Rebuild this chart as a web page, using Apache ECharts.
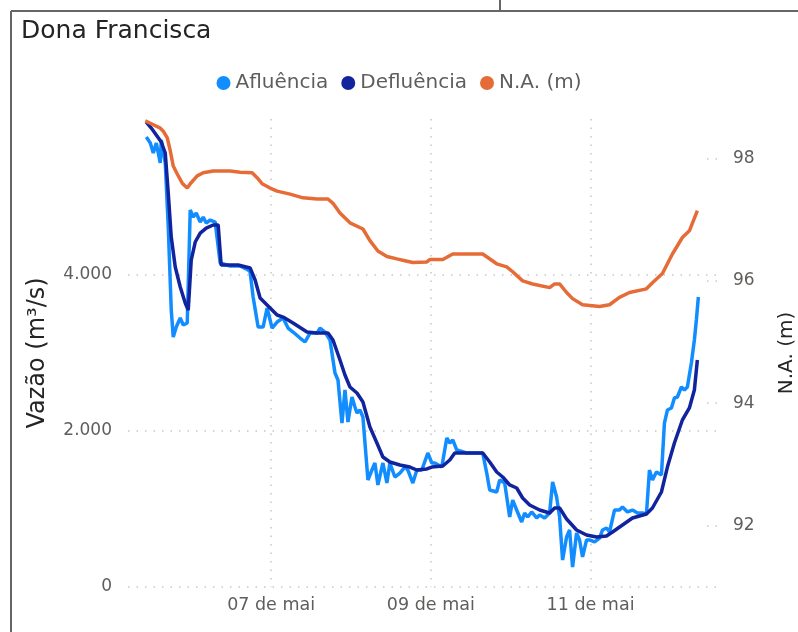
<!DOCTYPE html>
<html>
<head>
<meta charset="utf-8">
<title>Dona Francisca</title>
<script src="https://cdn.jsdelivr.net/npm/echarts@6/dist/echarts.min.js"></script>
<style>
html, body { margin: 0; padding: 0; background: #fff; }
#chart { width: 798px; height: 632px; }
</style>
</head>
<body>
<div id="chart"></div>
<script>
// eixo x: horas contadas a partir de 05/05 00:00
const firstDay = 5;

// Afluência (m³/s)
const afluencia = [
  [10.5,5769],[11.7,5692],[12.6,5564],[13.5,5692],[14.7,5436],[15.0,5731],[16.2,5436],[17.1,4615],
  [18.0,3551],[18.6,3205],[19.5,3333],[20.7,3449],[21.6,3359],[22.8,3384],[23.7,4833],[24.6,4743],
  [25.5,4795],[26.7,4679],[27.6,4743],[28.5,4666],[29.7,4705],[31.2,4679],[32.7,4154],[35.7,4115],
  [38.7,4115],[41.1,4064],[41.7,4038],[42.6,3718],[44.1,3333],[45.6,3333],[46.8,3577],[48.3,3320],
  [49.8,3397],[51.6,3449],[53.1,3320],[54.6,3269],[56.7,3192],[58.2,3141],[59.7,3256],[61.8,3256],
  [62.7,3320],[64.2,3269],[65.7,3167],[67.2,2743],[68.1,2654],[69.3,2102],[70.2,2526],[71.1,2115],
  [72.3,2436],[73.2,2308],[73.8,2231],[74.7,2269],[75.6,2179],[77.1,1372],[78.3,1500],[79.2,1590],
  [80.1,1308],[81.6,1590],[82.8,1333],[83.7,1590],[85.2,1410],[86.7,1461],[88.2,1538],[89.1,1500],
  [90.6,1333],[91.8,1500],[93.3,1500],[95.1,1718],[96.3,1590],[97.2,1590],[99.3,1538],[100.8,1910],
  [101.7,1846],[102.6,1885],[103.8,1756],[106.8,1718],[111.6,1718],[112.8,1461],[113.7,1244],[115.8,1218],
  [116.7,1372],[118.2,1333],[119.7,897],[120.6,1115],[121.8,987],[123.3,833],[124.2,949],[125.1,897],
  [126.3,962],[127.8,885],[128.7,923],[130.2,885],[131.7,949],[132.6,1346],[133.8,1154],[134.7,897],
  [135.6,346],[136.8,641],[137.7,731],[138.6,256],[139.8,692],[140.7,603],[141.6,385],[142.8,603],
  [143.7,603],[145.2,577],[146.7,628],[147.6,731],[148.8,756],[149.7,705],[151.2,987],[152.7,987],
  [153.6,1026],[155.1,962],[156.6,987],[158.1,949],[159.6,949],[160.8,936],[161.7,1500],[162.6,1372],
  [163.8,1474],[165.3,1436],[166.2,2102],[167.1,2269],[168.3,2295],[169.2,2423],[170.1,2436],[171.3,2564],
  [172.2,2526],[173.1,2564],[174.3,2872],[175.2,3167],[175.8,3423],[176.4,3718]
];

// Defluência (m³/s)
const defluencia = [
  [10.5,5961],[12.0,5884],[13.5,5795],[15.0,5705],[16.2,5564],[17.1,5051],[18.0,4487],[19.2,4102],
  [20.7,3846],[22.2,3641],[23.1,3551],[24.0,4192],[25.2,4423],[26.7,4538],[28.5,4602],[30.6,4641],
  [32.1,4641],[33.0,4128],[38.1,4128],[41.7,4090],[43.2,3936],[44.7,3705],[46.8,3615],[49.8,3487],
  [51.6,3461],[54.6,3384],[58.8,3269],[61.8,3256],[65.1,3256],[66.6,3167],[68.7,2910],[70.2,2718],
  [71.7,2564],[73.8,2487],[75.6,2372],[77.7,2051],[79.8,1846],[81.6,1667],[83.7,1603],[86.7,1564],
  [89.7,1538],[91.8,1500],[94.8,1513],[96.3,1538],[99.6,1551],[101.7,1628],[103.2,1718],[111.6,1718],
  [113.7,1603],[115.8,1474],[117.6,1410],[119.7,1308],[121.8,1269],[123.6,1141],[125.7,1051],[128.7,987],
  [131.7,949],[133.2,1013],[134.7,1013],[136.8,872],[139.8,731],[142.8,667],[145.8,641],[148.8,654],
  [150.6,705],[153.6,795],[156.6,885],[160.8,936],[162.6,1013],[165.3,1218],[167.1,1538],[169.2,1846],
  [171.6,2141],[173.7,2295],[175.2,2526],[176.1,2910]
];

// N.A. (m)
const nivel = [
  [10.2,98.62],[11.7,98.58],[14.7,98.50],[15.6,98.45],[16.8,98.34],[17.7,98.13],[18.6,97.88],[19.8,97.75],
  [21.3,97.60],[22.8,97.52],[23.7,97.59],[25.8,97.72],[27.6,97.77],[30.6,97.80],[35.7,97.80],[38.7,97.78],
  [42.3,97.77],[43.8,97.69],[45.3,97.59],[47.7,97.52],[49.8,97.47],[53.7,97.42],[57.6,97.36],[61.8,97.34],
  [65.1,97.34],[66.6,97.27],[68.7,97.11],[71.7,96.95],[75.6,96.85],[77.7,96.66],[80.1,96.49],[82.8,96.40],
  [85.8,96.36],[88.2,96.33],[90.6,96.30],[94.8,96.31],[95.7,96.35],[99.6,96.35],[102.6,96.44],[111.6,96.44],
  [115.8,96.28],[118.8,96.23],[120.6,96.15],[123.6,96.00],[126.6,95.95],[131.7,95.89],[133.2,95.95],[134.7,95.95],
  [136.8,95.81],[138.6,95.71],[141.6,95.61],[146.7,95.58],[149.7,95.61],[152.7,95.73],[155.7,95.81],[160.8,95.87],
  [162.6,95.97],[165.6,96.12],[168.6,96.44],[171.6,96.71],[173.7,96.82],[176.1,97.15]
];

// rótulos dos eixos
const dayTicks = [7, 9, 11];
const naTicks = [92, 94, 96, 98];

const xTicks = dayTicks.map(d => (d - firstDay) * 24);

const labelColor = '#605E5C';
const gridDots = { color: '#C8C6C4', width: 1.5, type: [1.5, 7] };
const font = 'DejaVu Sans';

const chart = echarts.init(document.getElementById('chart'));
chart.setOption({
  animation: false,
  textStyle: { fontFamily: font },
  title: {
    text: 'Dona Francisca',
    left: 16,
    top: 14,
    textStyle: { fontFamily: font, fontSize: 25, fontWeight: 'normal', color: '#252423' }
  },
  legend: {
    top: 68,
    left: 'center',
    icon: 'circle',
    itemWidth: 14,
    itemHeight: 14,
    itemGap: 13,
    textStyle: { fontFamily: font, fontSize: 20, color: labelColor },
    data: ['Afluência', 'Defluência', 'N.A. (m)']
  },
  grid: { left: 128, right: 81, top: 119, bottom: 45, outerBoundsMode: 'none' },
  xAxis: {
    type: 'value',
    min: 5,
    max: 182,
    axisLine: { show: false },
    axisTick: { show: false, customValues: xTicks },
    axisLabel: {
      customValues: xTicks,
      margin: 9,
      fontSize: 17.5,
      color: labelColor,
      formatter: v => String(firstDay + Math.round(v / 24)).padStart(2, '0') + ' de mai'
    },
    splitLine: { show: true, lineStyle: gridDots }
  },
  yAxis: [
    {
      type: 'value',
      min: 0,
      max: 6000,
      interval: 2000,
      name: 'Vazão (m³/s)',
      nameLocation: 'middle',
      nameGap: 78,
      nameRotate: 90,
      nameTextStyle: { fontFamily: font, fontSize: 24, color: '#252423' },
      axisLine: { show: false },
      axisTick: { show: false },
      axisLabel: {
        showMaxLabel: false,
        margin: 16,
        fontSize: 17,
        color: labelColor,
        formatter: v => v.toLocaleString('pt-BR')
      },
      splitLine: { show: true, showMaxLine: false, lineStyle: gridDots }
    },
    {
      type: 'value',
      min: 90.99,
      max: 98.65,
      position: 'right',
      name: 'N.A. (m)',
      nameLocation: 'middle',
      nameGap: 60,
      nameRotate: 90,
      nameTextStyle: { fontFamily: font, fontSize: 20, color: '#252423' },
      axisLine: { show: false },
      axisTick: {
        show: true,
        inside: true,
        length: 12,
        customValues: naTicks,
        lineStyle: gridDots
      },
      axisLabel: {
        customValues: naTicks,
        margin: 16,
        fontSize: 17,
        color: labelColor
      },
      splitLine: { show: false }
    }
  ],
  series: [
    {
      name: 'Afluência',
      type: 'line',
      yAxisIndex: 0,
      showSymbol: false,
      symbol: 'none',
      lineStyle: { width: 3.5, color: '#118DFF' },
      itemStyle: { color: '#118DFF' },
      data: afluencia
    },
    {
      name: 'Defluência',
      type: 'line',
      yAxisIndex: 0,
      showSymbol: false,
      symbol: 'none',
      lineStyle: { width: 3.5, color: '#12239E' },
      itemStyle: { color: '#12239E' },
      data: defluencia
    },
    {
      name: 'N.A. (m)',
      type: 'line',
      yAxisIndex: 1,
      showSymbol: false,
      symbol: 'none',
      lineStyle: { width: 3.5, color: '#E66C37' },
      itemStyle: { color: '#E66C37' },
      data: nivel
    }
  ],
  graphic: [
    { type: 'line', shape: { x1: 11, y1: 11, x2: 798, y2: 11 }, style: { stroke: '#666', lineWidth: 2 } },
    { type: 'line', shape: { x1: 11, y1: 11, x2: 11, y2: 632 }, style: { stroke: '#666', lineWidth: 2 } },
    { type: 'line', shape: { x1: 500, y1: 0, x2: 500, y2: 11 }, style: { stroke: '#666', lineWidth: 2 } }
  ]
});
</script>
</body>
</html>
